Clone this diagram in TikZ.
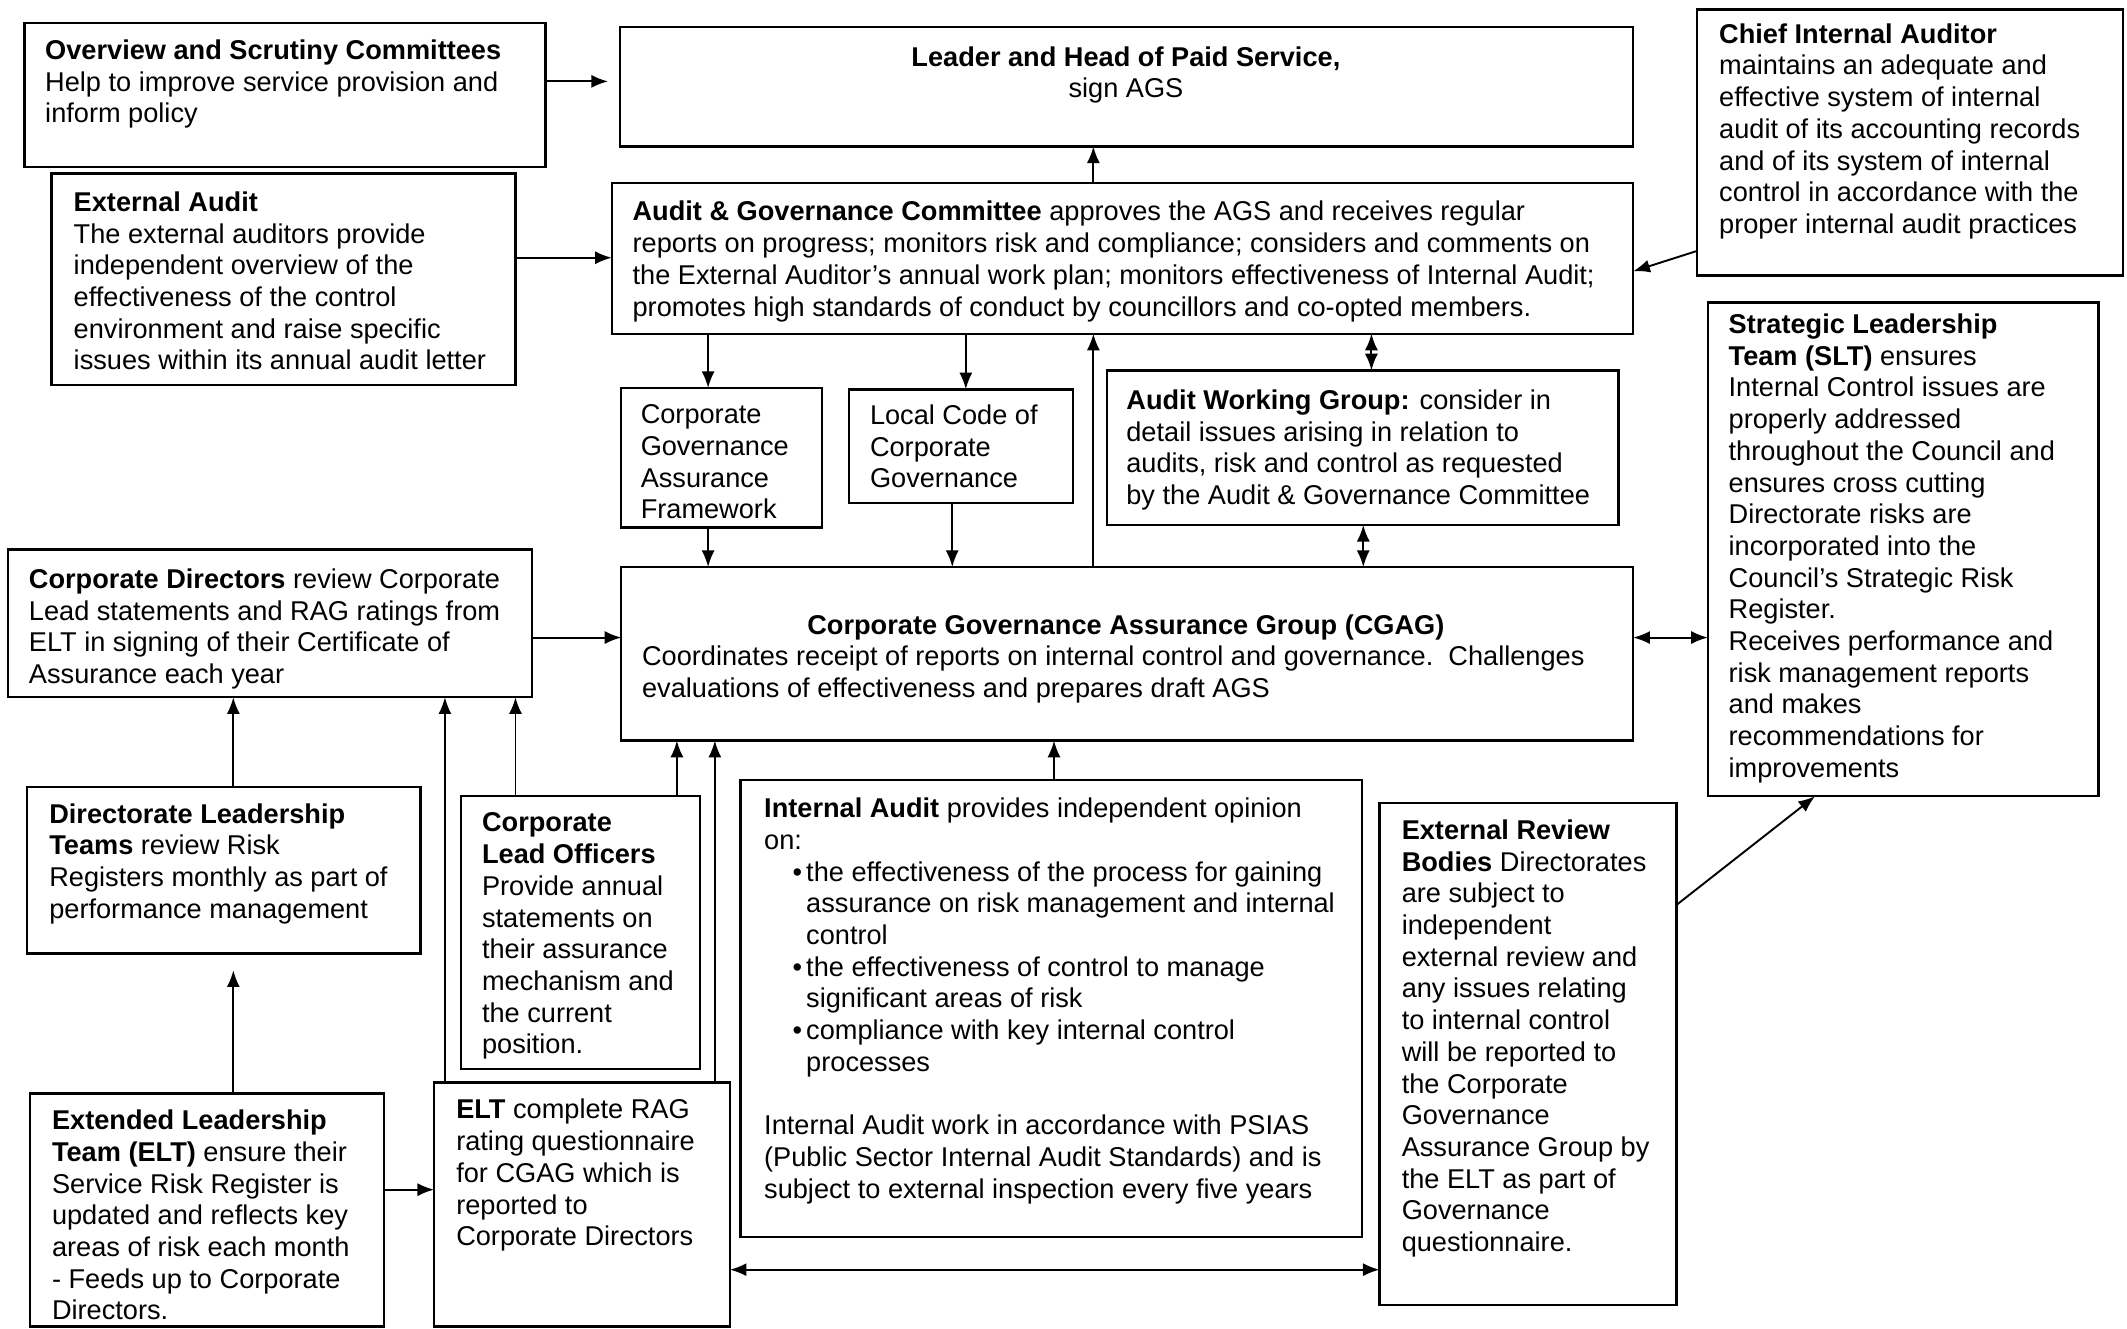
\documentclass[tikz,border=0pt]{standalone}
\usepackage{fontspec}
\setmainfont{Liberation Sans}
\usepackage{tikz}
\usetikzlibrary{%
	calc,%
	arrows.meta
}

\tikzset{
	panel/.style={draw, line width=1pt, inner sep=0pt, outer sep=0pt},
	txt/.style={inner sep=0pt, align=left, font=\fontsize{11.4}{13.3}\selectfont},
	arr/.style={line width=0.8pt, -{Latex[length=7pt,width=5.5pt]}},
	dbl/.style={line width=0.8pt, {Latex[length=7pt,width=5.5pt]}-{Latex[length=7pt,width=5.5pt]}}
}

% box from (x1,y1) to (x2,y2), named #1
\newcommand{\drawpanel}[5]{%
	\node[panel, anchor=north west, minimum width={(#4-#2)*0.02cm}, minimum height={(#5-#3)*0.02cm}] (#1) at (#2,#3) {};}

\begin{document}
\begin{tikzpicture}[x=0.02cm, y=-0.02cm]
		\path[use as bounding box, fill=white] (0,0) rectangle (1568,979);
		
		%Boxes
		\drawpanel{osc}{18}{17}{402}{123}
		\drawpanel{leader}{457}{20}{1204}{108}
		\drawpanel{cia}{1251}{7}{1565}{203}
		\drawpanel{ea}{38}{128}{380}{284}
		\drawpanel{agc}{451}{135}{1204}{246}
		\drawpanel{cgaf}{458}{286}{606}{389}
		\drawpanel{lcc}{626}{287}{791}{371}
		\drawpanel{awg}{816}{273}{1193}{387}
		\drawpanel{slt}{1259}{223}{1547}{587}
		\drawpanel{cd}{6}{405}{392}{514}
		\drawpanel{cgag}{458}{418}{1204}{546}
		\drawpanel{dlt}{20}{580}{310}{703}
		\drawpanel{clo}{340}{587}{516}{788}
		\drawpanel{ia}{546}{575}{1004}{912}
		\drawpanel{erb}{1017}{592}{1236}{962}
		\drawpanel{elt}{22}{806}{283}{978}
		\drawpanel{eltc}{320}{798}{538}{978}
		
		%Texts
		\node[txt, anchor=north west] (osc-t) at (33,29) {\textbf{Overview and Scrutiny Committees}\\
			Help to improve service provision and\\inform policy};
		\node[txt, anchor=north, align=center] (leader-t) at (830,34) {\textbf{Leader and Head of Paid Service,}\\sign AGS};
		\node[txt, anchor=north west] (cia-t) at (1267,17) {\textbf{Chief Internal Auditor}\\
			maintains an adequate and\\effective system of internal\\audit of its accounting records\\
			and of its system of internal\\control in accordance with the\\proper internal audit practices};
		\node[txt, anchor=north west] (ea-t) at (54,141) {\textbf{External Audit}\\
			The external auditors provide\\independent overview of the\\effectiveness of the control\\
			environment and raise specific\\issues within its annual audit letter};
		\node[txt, anchor=north west] (agc-t) at (466,148) {\textbf{Audit \& Governance Committee} approves the AGS and receives regular\\
			reports on progress; monitors risk and compliance; considers and comments on\\
			the External Auditor’s annual work plan; monitors effectiveness of Internal Audit;\\
			promotes high standards of conduct by councillors and co-opted members.};
		\node[txt, anchor=north west] (cgaf-t) at (472,298) {Corporate\\Governance\\Assurance\\Framework};
		\node[txt, anchor=north west] (lcc-t) at (641,298) {Local Code of\\Corporate\\Governance};
		\node[txt, anchor=north west] (awg-t) at (830,287) {\textbf{Audit Working Group:} consider in\\
			detail issues arising in relation to\\audits, risk and control as requested\\by the Audit \& Governance Committee};
		\node[txt, anchor=north west] (slt-t) at (1274,231) {\textbf{Strategic Leadership}\\\textbf{Team (SLT)} ensures\\
			Internal Control issues are\\properly addressed\\throughout the Council and\\ensures cross cutting\\
			Directorate risks are\\incorporated into the\\Council’s Strategic Risk\\Register.\\
			Receives performance and\\risk management reports\\and makes\\recommendations for\\improvements};
		\node[txt, anchor=north west] (cd-t) at (21,419) {\textbf{Corporate Directors} review Corporate\\
			Lead statements and RAG ratings from\\ELT in signing of their Certificate of\\Assurance each year};
		\node[txt, anchor=north, align=center] (cgag-h) at (830,453) {\textbf{Corporate Governance Assurance Group (CGAG)}};
		\node[txt, anchor=north west] (cgag-t) at (473,476) {Coordinates receipt of reports on internal control and governance.\ \ Challenges\\
			evaluations of effectiveness and prepares draft AGS};
		\node[txt, anchor=north west] (dlt-t) at (36,592) {\textbf{Directorate Leadership}\\\textbf{Teams} review Risk\\
			Registers monthly as part of\\performance management};
		\node[txt, anchor=north west] (clo-t) at (355,599) {\textbf{Corporate}\\\textbf{Lead Officers}\\Provide annual\\
			statements on\\their assurance\\mechanism and\\the current\\position.};
		\node[txt, anchor=north west] (ia-t) at (563,588) {\textbf{Internal Audit} provides independent opinion\\on:\\
			\hspace*{0.42cm}\makebox[0.2cm][l]{\textbullet}the effectiveness of the process for gaining\\
			\hspace*{0.62cm}assurance on risk management and internal\\
			\hspace*{0.62cm}control\\
			\hspace*{0.42cm}\makebox[0.2cm][l]{\textbullet}the effectiveness of control to manage\\
			\hspace*{0.62cm}significant areas of risk\\
			\hspace*{0.42cm}\makebox[0.2cm][l]{\textbullet}compliance with key internal control\\
			\hspace*{0.62cm}processes\\[13.3pt]
			Internal Audit work in accordance with PSIAS\\(Public Sector Internal Audit Standards) and is\\
			subject to external inspection every five years};
		\node[txt, anchor=north west] (erb-t) at (1033,604) {\textbf{External Review}\\\textbf{Bodies} Directorates\\
			are subject to\\independent\\external review and\\any issues relating\\to internal control\\
			will be reported to\\the Corporate\\Governance\\Assurance Group by\\the ELT as part of\\
			Governance\\questionnaire.};
		\node[txt, anchor=north west] (elt-t) at (38,818) {\textbf{Extended Leadership}\\\textbf{Team (ELT)} ensure their\\
			Service Risk Register is\\updated and reflects key\\areas of risk each month\\- Feeds up to Corporate\\Directors.};
		\node[txt, anchor=north west] (eltc-t) at (336,810) {\textbf{ELT} complete RAG\\rating questionnaire\\
			for CGAG which is\\reported to\\Corporate Directors};
		
		% Rails for the connectors
		\foreach \x in {172,328,380,499,522,527,702,712,777,806,1005,1011,1338}
		\coordinate (x\x) at (\x,0);
		\foreach \y in {60,185,190,200,470,667,877,936}
		\coordinate (y\y) at (0,\y);
		
		% Connectors
		\draw[arr, shorten >=5pt] (osc.east |- y60) -- (leader.west |- y60);
		\draw[arr] (ea.east |- y190) -- (agc.west |- y190);
		\draw[arr] (agc.north -| x806) -- (leader.south -| x806);
		\draw[arr] (cia.west |- y185) -- (agc.east |- y200);
		\draw[arr] (agc.south -| x522) -- (cgaf.north -| x522);
		\draw[arr] (agc.south -| x712) -- (lcc.north -| x712);
		\draw[arr] (cgag.north -| x806) -- (agc.south -| x806);
		\draw[dbl] (agc.south -| x1011) -- (awg.north -| x1011);
		\draw[dbl] (awg.south -| x1005) -- (cgag.north -| x1005);
		\draw[arr] (cgaf.south -| x522) -- (cgag.north -| x522);
		\draw[arr] (lcc.south -| x702) -- (cgag.north -| x702);
		\draw[arr] (cd.east |- y470) -- (cgag.west |- y470);
		\draw[dbl] (cgag.east |- y470) -- (slt.west |- y470);
		\draw[arr] (dlt.north -| x172) -- (cd.south -| x172);
		\draw[arr, shorten >=7pt] (elt.north -| x172) -- (dlt.south -| x172);
		\draw[arr] (eltc.north -| x328) -- (cd.south -| x328);
		\draw[arr] (clo.north -| x380) -- (cd.south -| x380);
		\draw[arr] (clo.north -| x499) -- (cgag.south -| x499);
		\draw[arr] (eltc.north -| x527) -- (cgag.south -| x527);
		\draw[arr] (ia.north -| x777) -- (cgag.south -| x777);
		\draw[arr] (erb.east |- y667) -- (slt.south -| x1338);
		\draw[arr] (elt.east |- y877) -- (eltc.west |- y877);
		\draw[dbl] (eltc.east |- y936) -- (erb.west |- y936);
	\end{tikzpicture}
\end{document}
